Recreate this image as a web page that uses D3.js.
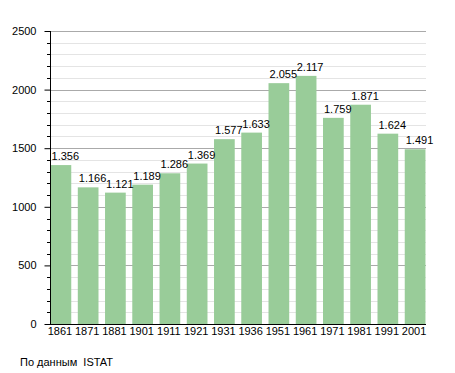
<!DOCTYPE html>
<html>
<head>
<meta charset="utf-8">
<script src="https://cdn.jsdelivr.net/npm/d3@7"></script>
<style>
  body { margin: 0; background: #fff; }
  svg { display: block; font-family: "Liberation Sans", Arial, sans-serif; }
</style>
</head>
<body>
<svg id="chart" width="455" height="373"></svg>
<script>
// data
const years = ['1861', '1871', '1881', '1901', '1911', '1921', '1931', '1936', '1951', '1961', '1971', '1981', '1991', '2001'];
const population = [1356, 1166, 1121, 1189, 1286, 1369, 1577, 1633, 2055, 2117, 1759, 1871, 1624, 1491];
const majorTicks = [0, 500, 1000, 1500, 2000, 2500];
const sourceNote = 'По данным  ISTAT';

const svg = d3.select('#chart');
const plotLeft = 50, plotRight = 426, plotTop = 31, plotBottom = 324;

let x = d3.scaleBand()
	.domain(years)
	.range([plotLeft, plotRight])
	.paddingInner(0.24)
	.paddingOuter(0.02);

let y = d3.scaleLinear()
	.domain([0, 2500])
	.range([plotBottom, plotTop]);

// minor grid every 100
let minor = d3.range(100, 2600, 100).filter(function(d) { return d % 500 != 0; });
svg.append('g').selectAll('line')
	.data(minor)
	.join('line')
	.attr('x1', plotLeft).attr('x2', plotRight)
	.attr('y1', function(d) { return Math.round(y(d)) + 0.5; })
	.attr('y2', function(d) { return Math.round(y(d)) + 0.5; })
	.attr('stroke', '#e4e4e4');

// major grid every 500
svg.append('g').selectAll('line')
	.data(majorTicks.slice(1))
	.join('line')
	.attr('x1', plotLeft).attr('x2', plotRight)
	.attr('y1', function(d) { return Math.round(y(d)) + 0.5; })
	.attr('y2', function(d) { return Math.round(y(d)) + 0.5; })
	.attr('stroke', '#aaaaaa');

// bars
svg.append('g').selectAll('rect')
	.data(population)
	.join('rect')
	.attr('x', function(d, i) { return x(years[i]); })
	.attr('y', function(d) { return y(d); })
	.attr('width', x.bandwidth())
	.attr('height', function(d) { return plotBottom - y(d); })
	.attr('fill', '#99cc99');

// value labels, left aligned with the bar
svg.append('g').selectAll('text')
	.data(population)
	.join('text')
	.attr('x', function(d, i) { return x(years[i]) + 1; })
	.attr('y', function(d) { return y(d) - 5; })
	.attr('font-size', 11)
	.attr('fill', '#000')
	.text(function(d) { return d3.format(',')(d).replace(',', '.'); });

// y axis
let yAxis = svg.append('g')
	.attr('transform', 'translate(' + (plotLeft + 0.5) + ',0)')
	.call(d3.axisLeft(y).tickValues(majorTicks).tickSize(6).tickPadding(8).tickFormat(d3.format('d')));
yAxis.select('.domain').remove();
yAxis.selectAll('text').attr('font-size', 11).attr('font-family', null).attr('fill', '#000');
yAxis.selectAll('line').attr('stroke', '#000');

// minor ticks on y axis
svg.append('g').selectAll('line')
	.data(minor)
	.join('line')
	.attr('x1', plotLeft - 3).attr('x2', plotLeft)
	.attr('y1', function(d) { return Math.round(y(d)) + 0.5; })
	.attr('y2', function(d) { return Math.round(y(d)) + 0.5; })
	.attr('stroke', '#000');

svg.append('line')
	.attr('x1', plotLeft + 0.5).attr('x2', plotLeft + 0.5)
	.attr('y1', plotTop).attr('y2', plotBottom)
	.attr('stroke', '#000');

// x axis
let xAxis = svg.append('g')
	.attr('transform', 'translate(0,' + (plotBottom + 0.5) + ')')
	.call(d3.axisBottom(x).tickSize(0).tickPadding(3));
xAxis.select('.domain').attr('d', 'M' + plotLeft + ',0H' + plotRight).attr('stroke', '#000');
xAxis.selectAll('text').attr('font-size', 11).attr('font-family', null).attr('fill', '#000')
	.attr('dx', -1);

// source note
svg.append('text')
	.attr('x', 20)
	.attr('y', 366)
	.attr('font-size', 11)
	.style('white-space', 'pre')
	.text(sourceNote);
</script>
</body>
</html>
